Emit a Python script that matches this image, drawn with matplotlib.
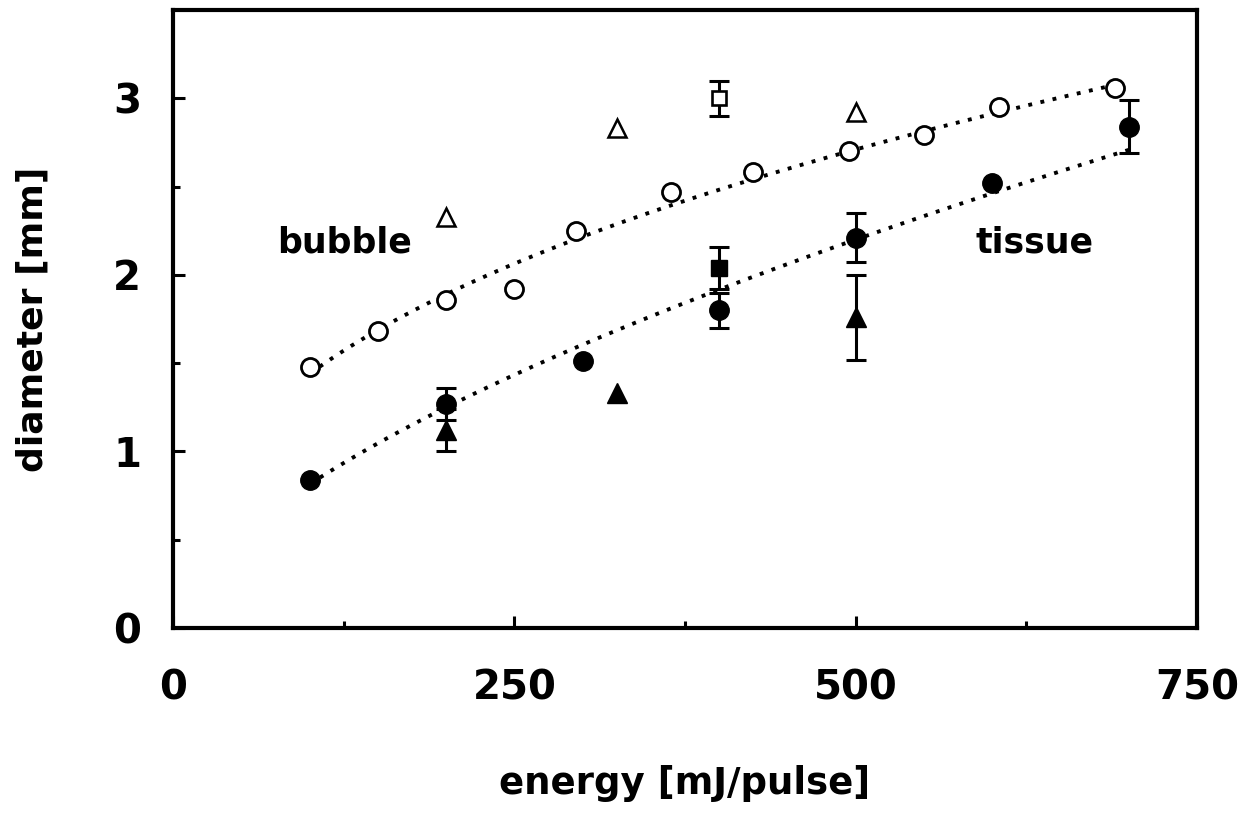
import numpy as np
import matplotlib
matplotlib.use("Agg")
import matplotlib.pyplot as plt

# ---------------- data ----------------
bubble_E = [100, 150, 200, 250, 295, 365, 425, 495, 550, 605, 690]
bubble_d = [1.48, 1.68, 1.86, 1.92, 2.25, 2.47, 2.58, 2.70, 2.79, 2.95, 3.06]

bubble_tri_E = [200, 325, 500]
bubble_tri_d = [2.33, 2.83, 2.92]

bubble_sq_E = [400]
bubble_sq_d = [3.00]
bubble_sq_err = [0.10]

tissue_E = [100, 200, 300, 400, 500, 600, 700]
tissue_d = [0.84, 1.27, 1.51, 1.80, 2.21, 2.52, 2.84]
tissue_err = [0.0, 0.09, 0.0, 0.10, 0.14, 0.0, 0.15]

tissue_tri_E = [200, 325, 500]
tissue_tri_d = [1.12, 1.33, 1.76]
tissue_tri_err = [0.12, 0.0, 0.24]

tissue_sq_E = [400]
tissue_sq_d = [2.04]
tissue_sq_err = [0.12]

xticks = [0, 250, 500, 750]
xtick_labels = ["0", "250", "500", "750"]
xminor = [125, 375, 625]
yticks = [0, 1, 2, 3]
ytick_labels = ["0", "1", "2", "3"]
yminor = [0.5, 1.5, 2.5]

# ---------------- figure ----------------
plt.rcParams["font.family"] = ["DejaVu Sans"]
plt.rcParams["font.weight"] = "bold"

W, H = 1240, 815
fig = plt.figure(figsize=(W / 100, H / 100), dpi=100)
L, R, T, B = 173, 1197, 10, 628
ax = fig.add_axes([L / W, (H - B) / H, (R - L) / W, (B - T) / H])
ax.set_xlim(0, 750)
ax.set_ylim(0, 3.5)

dot_style = (0, (1.0, 2.2))


def power_fit(E, d):
    E = np.asarray(E, float)
    d = np.asarray(d, float)
    b, a = np.polyfit(np.log(E), np.log(d), 1)
    xs = np.linspace(E.min(), E.max(), 300)
    return xs, np.exp(a) * xs ** b


xs, ys = power_fit(bubble_E, bubble_d)
ax.plot(xs, ys, color="black", lw=2.8, linestyle=dot_style, zorder=2)
xs, ys = power_fit(tissue_E, tissue_d)
ax.plot(xs, ys, color="black", lw=2.8, linestyle=dot_style, zorder=2)

eb_kw = dict(fmt="none", ecolor="black", elinewidth=2.2, capsize=7, capthick=2.2, zorder=2)


def errbars(E, d, err):
    E = np.asarray(E, float)
    d = np.asarray(d, float)
    err = np.asarray(err, float)
    m = err > 0
    if m.any():
        ax.errorbar(E[m], d[m], yerr=err[m], **eb_kw)


# bubble (open symbols)
errbars(bubble_sq_E, bubble_sq_d, bubble_sq_err)
ax.plot(bubble_E, bubble_d, "o", ms=13, mfc="white", mec="black", mew=2.0, zorder=4)
ax.plot(bubble_tri_E, bubble_tri_d, "^", ms=13, mfc="white", mec="black", mew=1.8, zorder=4)
ax.plot(bubble_sq_E, bubble_sq_d, "s", ms=10.5, mfc="white", mec="black", mew=1.9, zorder=4)

# tissue (filled symbols)
errbars(tissue_E, tissue_d, tissue_err)
errbars(tissue_tri_E, tissue_tri_d, tissue_tri_err)
errbars(tissue_sq_E, tissue_sq_d, tissue_sq_err)
ax.plot(tissue_E, tissue_d, "o", ms=14, color="black", zorder=4)
ax.plot(tissue_tri_E, tissue_tri_d, "^", ms=14, color="black", zorder=4)
ax.plot(tissue_sq_E, tissue_sq_d, "s", ms=11.5, color="black", zorder=4)

# annotations
ax.text(76, 2.124, "bubble", fontsize=25, fontweight="bold", va="baseline", ha="left")
ax.text(588, 2.124, "tissue", fontsize=25, fontweight="bold", va="baseline", ha="left")

# axes styling
for s in ax.spines.values():
    s.set_linewidth(3)
ax.set_xticks(xticks)
ax.set_xticklabels(xtick_labels)
ax.set_xticks(xminor, minor=True)
ax.set_yticks(yticks)
ax.set_yticklabels(ytick_labels)
ax.set_yticks(yminor, minor=True)
ax.tick_params(which="both", direction="in", width=2.2, top=False, right=False)
ax.tick_params(which="major", length=8.5)
ax.tick_params(which="minor", length=5)
ax.tick_params(axis="y", which="major", pad=23, labelsize=29)
ax.tick_params(axis="x", which="major", pad=29, labelsize=29)
for lab in ax.get_xticklabels() + ax.get_yticklabels():
    lab.set_fontweight("bold")

ax.set_xlabel("energy [mJ/pulse]", fontsize=26.7, fontweight="bold", va="center")
ax.xaxis.set_label_coords(0.5, (B - 784) / (B - T))
ax.set_ylabel("diameter [mm]", fontsize=26, fontweight="bold", va="center")
ax.yaxis.set_label_coords((33 - L) / (R - L), 0.5)

fig.savefig("out.png", dpi=100)
